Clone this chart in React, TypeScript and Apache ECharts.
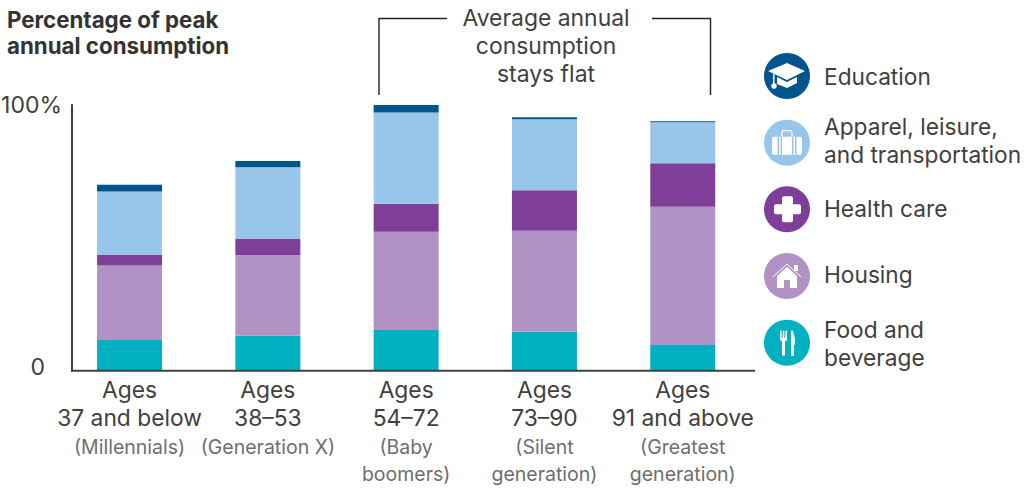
import React, { useEffect, useRef } from "react";
import * as echarts from "echarts";

const ages = ["37 and below", "38–53", "54–72", "73–90", "91 and above"];
const generations = [["(Millennials)"], ["(Generation X)"], ["(Baby", "boomers)"], ["(Silent", "generation)"], ["(Greatest", "generation)"]];
const food = [11.6, 13.2, 15.3, 14.7, 9.7];
const housing = [28.0, 30.3, 37.0, 38.0, 52.0];
const health = [3.9, 6.1, 10.5, 15.2, 16.4];
const apparel = [23.9, 27.0, 34.4, 26.7, 15.4];
const education = [2.6, 2.3, 2.9, 0.8, 0.4];
const yTicks = [0, 100];
const legendOrder = ["Education", "Apparel, leisure,\nand transportation", "Health care", "Housing", "Food and\nbeverage"];
const legendCentres = [76, 142.7, 209.3, 276, 342.7];
const legendTextShift = [0, -2, -1, -2, 1];

const FONT = "Inter";
const DARK = "#404040";
const GREY = "#6e6e6e";
const C = { edu: "#00558f", app: "#98c6ea", hlth: "#7f3f98", hous: "#b093c4", food: "#00b2c1" };

const CX = 787;
const white = { fill: "#fff" };

function icons() {
  const el: any[] = [];
  const poly = (cy: number, pts: number[][], fill = "#fff") =>
    el.push({ type: "polygon", z: 20, shape: { points: pts.map(([a, b]) => [CX + a, cy + b]) }, style: { fill } });
  const rect = (cy: number, x: number, y: number, w: number, h: number, fill = "#fff", r = 0) =>
    el.push({ type: "rect", z: 20, shape: { x: CX + x, y: cy + y, width: w, height: h, r }, style: { fill } });

  // Education
  let cy = legendCentres[0];
  poly(cy, [[-19, -5], [0, -13], [18, -5], [0, 4]]);
  poly(cy, [[-10, 1], [0, 6], [10, 1], [10, 7], [0, 12], [-10, 8]]);
  rect(cy, -14, -2, 1.5, 10);
  el.push({ type: "circle", z: 20, shape: { cx: CX - 13, cy: cy + 10, r: 2.8 }, style: white });

  // Apparel: suitcase
  cy = legendCentres[1];
  el.push({ type: "rect", z: 20, shape: { x: CX - 5, y: cy - 12, width: 10, height: 7, r: 1.5 }, style: { fill: "none", stroke: "#fff", lineWidth: 1.3 } });
  rect(cy, -15, -6, 30, 18, "#fff", 2);
  [-9.5, -6.5, 5, 8].forEach((x) => rect(cy, x, -6, 1.5, 18, C.app));

  // Health: cross
  cy = legendCentres[2];
  rect(cy, -5, -13, 11, 26, "#fff", 2);
  rect(cy, -13, -5, 27, 10, "#fff", 2);

  // Housing
  cy = legendCentres[3];
  poly(cy, [[-10, 0], [0, -9], [10, 0], [10, 12], [3, 12], [3, 4], [-3, 4], [-3, 12], [-10, 12]]);
  el.push({ type: "polyline", z: 20, shape: { points: [[CX - 14, cy + 1], [CX, cy - 12], [CX + 14, cy + 1]] }, style: { fill: "none", stroke: "#fff", lineWidth: 1 } });
  rect(cy, 7, -11, 4, 6);

  // Food: fork and knife
  cy = legendCentres[4];
  rect(cy, -7, -12, 1.6, 9);
  rect(cy, -4.3, -12, 1.6, 9);
  rect(cy, -1.6, -12, 1.6, 9);
  rect(cy, -7, -5, 7, 3);
  rect(cy, -5, -3, 3, 16, "#fff", 1);
  poly(cy, [[4, 13], [4, -12], [6, -12], [8, -4], [8, 2], [7, 2], [7, 13]]);
  return el;
}

export default function App() {
  const ref = useRef<HTMLDivElement>(null);
  useEffect(() => {
    const chart = echarts.init(ref.current!, undefined, { renderer: "svg" });
    const makeSeries = (name: string, data: number[], color: string) => ({
      name, type: "bar", stack: "total", data, barWidth: 65, itemStyle: { color }, emphasis: { disabled: true },
    });
    const categories = ages.map((a, i) => `{a|Ages}\n{a|${a}}\n` + generations[i].map((g, j) => `{${j === 0 ? "c" : "b"}|${g}}`).join("\n"));
    const sub = { fontFamily: FONT, fontSize: 19.5, color: GREY, lineHeight: 28, align: "center" };
    chart.setOption({
      animation: false,
      grid: { left: 60.4, width: 691.5, top: 105, height: 265.7, outerBoundsMode: "none" },
      xAxis: {
        type: "category", data: categories,
        axisLine: { show: false }, axisTick: { show: false },
        axisLabel: {
          interval: 0, margin: 5, lineHeight: 28,
          formatter: (v: string) => v,
          rich: {
            a: { fontFamily: FONT, fontSize: 22.8, color: DARK, lineHeight: 28, align: "center" },
            b: sub,
            c: { ...sub, padding: [3, 0, 0, 0] },
          },
        },
      },
      yAxis: {
        type: "value", min: 0, max: 100, interval: 100, offset: -11.6,
        splitLine: { show: false }, axisTick: { show: false },
        axisLine: { show: true, lineStyle: { color: DARK, width: 2 } },
        axisLabel: {
          margin: 10, fontFamily: FONT, fontSize: 23, color: DARK,
          formatter: (v: number) => (v === yTicks[0] ? "{z|0}" : v + "%"),
          rich: { z: { fontFamily: FONT, fontSize: 23, color: DARK, padding: [0, 17, 8, 0] } },
        },
      },
      legend: legendOrder.map((name, i) => {
        const shift = legendTextShift[i];
        const pad = 2 * Math.abs(shift);
        const textH = name.split("\n").length * 28 + pad;
        const base = { fontFamily: FONT, fontSize: 22.7, color: DARK, lineHeight: 28 };
        return {
          orient: "vertical", left: 764, top: legendCentres[i] - Math.max(23, textH / 2),
          icon: "circle", itemWidth: 46, itemHeight: 46,
          selectedMode: false, padding: 0, data: [name],
          formatter: (n: string) => {
            const body = n.split("\n").map((l) => `{t|${l}}`).join("\n");
            if (shift > 0) return `{s| }\n${body}`;
            if (shift < 0) return `${body}\n{s| }`;
            return body;
          },
          textStyle: {
            ...base, padding: [0, 0, 0, 9],
            rich: {
              t: base,
              s: { fontFamily: FONT, fontSize: 1, lineHeight: pad || 1 },
            },
          },
        };
      }),
      series: [
        makeSeries(legendOrder[4], food, C.food),
        makeSeries(legendOrder[3], housing, C.hous),
        makeSeries(legendOrder[2], health, C.hlth),
        makeSeries(legendOrder[1], apparel, C.app),
        makeSeries(legendOrder[0], education, C.edu),
      ],
      graphic: [
        { type: "line", z: 15, shape: { x1: 71, y1: 370.7, x2: 755, y2: 370.7 }, style: { stroke: DARK, lineWidth: 2 } },
        { type: "polyline", z: 15, shape: { points: [[379, 95], [379, 18.5], [447, 18.5]] }, style: { fill: "none", stroke: "#222", lineWidth: 1.4 } },
        { type: "polyline", z: 15, shape: { points: [[652, 18.5], [710.5, 18.5], [710.5, 95]] }, style: { fill: "none", stroke: "#222", lineWidth: 1.4 } },
        { type: "text", z: 15, x: 7, y: 6, style: { text: "Percentage of peak\nannual consumption", fontFamily: FONT, fontSize: 22.3, fontWeight: "bold", fill: "#333", lineHeight: 26 } },
        { type: "text", z: 15, x: 546, y: 4, style: { text: "Average annual\nconsumption\nstays flat", fontFamily: FONT, fontSize: 22.9, fill: DARK, lineHeight: 28, align: "center" } },
        ...icons(),
      ],
    });
    return () => chart.dispose();
  }, []);
  return <div ref={ref} style={{ position: "absolute", left: 0, top: 0, width: 1024, height: 494 }} />;
}
